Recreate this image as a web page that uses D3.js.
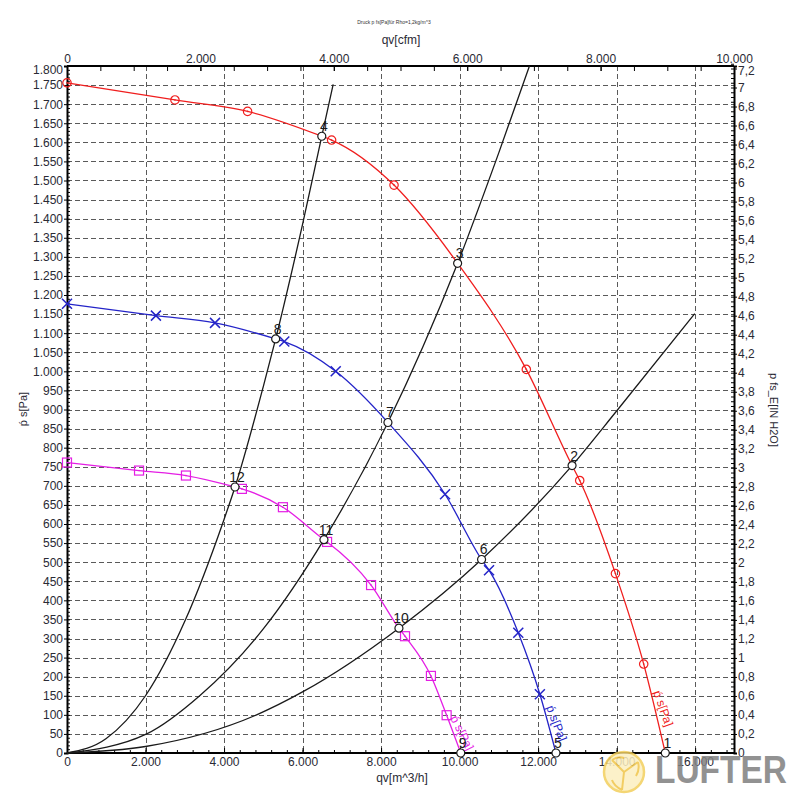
<!DOCTYPE html>
<html>
<head>
<meta charset="utf-8">
<script src="https://cdn.jsdelivr.net/npm/d3@7"></script>
<style>
  body { margin: 0; background: #fff; }
  text { font-family: "Liberation Sans", Arial, sans-serif; }
</style>
</head>
<body>
<svg id="chart"></svg>
<script>
// ---- data ----
// axis ticks
const bottomTicks = d3.range(0, 16001, 2000);      // qv [m^3/h]
const topTicks = d3.range(0, 10001, 2000);         // qv [cfm]
const leftTicks = d3.range(0, 1801, 50);           // psf [Pa]
const rightTicks = d3.range(0, 37).map(i => i / 5); // [in H2O]

// fan curves: [qv m^3/h, psf Pa]
const redMarkers = [[0, 1756], [2750, 1711], [4600, 1681], [6740, 1606], [8330, 1488],
  [11700, 1005], [13060, 714], [13970, 470], [14690, 233]];
const blueMarkers = [[0, 1177], [2265, 1146], [3770, 1127], [5535, 1078], [6845, 1000],
  [9630, 678], [10750, 479], [11495, 315], [12045, 154]];
const magentaMarkers = [[0, 761], [1835, 740], [3030, 727], [4455, 692], [5500, 644],
  [6625, 553], [7745, 440], [8610, 306], [9270, 202], [9670, 99]];

// operating points
const redPoints = [{ id: '4', q: 6490, p: 1616 }, { id: '3', q: 9950, p: 1283 },
  { id: '2', q: 12865, p: 753 }, { id: '1', q: 15240, p: 0 }];
const bluePoints = [{ id: '8', q: 5315, p: 1085 }, { id: '7', q: 8175, p: 866 },
  { id: '6', q: 10560, p: 507 }, { id: '5', q: 12455, p: 0 }];
const magentaPoints = [{ id: '12', q: 4280, p: 697 }, { id: '11', q: 6545, p: 559 },
  { id: '10', q: 8455, p: 327 }, { id: '9', q: 10030, p: 0 }];

// system curves (black)
const sysA = [[0, 0], [1000, 38], [2000, 150], [3000, 345], [4000, 612], [4280, 697],
  [5000, 960], [5315, 1085], [6000, 1385], [6490, 1616], [6780, 1752]];
const sysB = [[0, 0], [2030, 50], [3380, 150], [5000, 325], [6545, 559], [8175, 866],
  [9950, 1283], [11000, 1573], [11780, 1800]];
const sysC = [[0, 0], [2000, 17], [4830, 100], [6000, 160], [8455, 327], [10560, 507],
  [12865, 753], [14000, 896], [15990, 1151]];

const curveLabel = 'ṕ s[Pa]';

// ---- layout ----
const width = 800, height = 800;
const plot = { left: 67, right: 734, top: 66, bottom: 753 };

const svg = d3.select('#chart').attr('width', width).attr('height', height);

const de = d3.formatLocale({ decimal: ',', thousands: '.', grouping: [3], currency: ['', ''] });
const fmtInt = de.format(',');
const fmtDec = de.format('.1~f');

const x = d3.scaleLinear().domain([0, 16990]).range([plot.left, plot.right]);
const xCfm = d3.scaleLinear().domain([0, 10000]).range([plot.left, plot.right]);
const y = d3.scaleLinear().domain([0, 1800]).range([plot.bottom, plot.top]);
const yIn = d3.scaleLinear().domain([0, 1800 / 249.09]).range([plot.bottom, plot.top]);

// grid
const grid = svg.append('g').attr('stroke', '#5a5a5a').attr('stroke-width', 1)
  .attr('stroke-dasharray', '5,3');
grid.selectAll('.h').data(leftTicks.filter(d => d > 0 && d < 1800)).join('line')
  .attr('x1', plot.left).attr('x2', plot.right)
  .attr('y1', d => Math.round(y(d)) + 0.5).attr('y2', d => Math.round(y(d)) + 0.5);
grid.selectAll('.v').data(bottomTicks.filter(d => d > 0)).join('line')
  .attr('y1', plot.top).attr('y2', plot.bottom)
  .attr('x1', d => Math.round(x(d)) + 0.5).attr('x2', d => Math.round(x(d)) + 0.5);

// axes
function styleAxis(g) {
  g.select('.domain').attr('stroke', '#000').attr('stroke-width', 2);
  g.selectAll('.tick line').attr('stroke', '#000');
  g.selectAll('.tick text').attr('fill', '#2a2a35').style('font-size', '12px');
}

const leftAxis = svg.append('g').attr('transform', `translate(${plot.left},0)`)
  .call(d3.axisLeft(y).tickValues(leftTicks).tickSize(3).tickPadding(1).tickFormat(fmtInt))
  .call(styleAxis);
leftAxis.selectAll('.tick text').filter(d => d === 1800).attr('dy', '0.62em');
svg.append('g').attr('transform', `translate(${plot.left},0)`)
  .call(d3.axisLeft(y).tickValues(d3.range(0, 1801, 10)).tickSize(-3).tickFormat(''))
  .call(g => g.select('.domain').remove())
  .selectAll('line').attr('stroke', '#000');

const rightAxis = svg.append('g').attr('transform', `translate(${plot.right},0)`)
  .call(d3.axisRight(yIn).tickValues(rightTicks).tickSize(3).tickPadding(1).tickFormat(fmtDec))
  .call(styleAxis);
rightAxis.selectAll('.tick text').filter(d => d === 7.2).attr('dy', '0.5em');
svg.append('g').attr('transform', `translate(${plot.right},0)`)
  .call(d3.axisRight(yIn).tickValues(d3.range(0, 146).map(i => i / 20)).tickSize(-3).tickFormat(''))
  .call(g => g.select('.domain').remove())
  .selectAll('line').attr('stroke', '#000');

svg.append('g').attr('transform', `translate(0,${plot.bottom})`)
  .call(d3.axisBottom(x).tickValues(bottomTicks).tickSize(-5).tickPadding(4).tickFormat(fmtInt))
  .call(styleAxis)
  .call(g => g.select('.domain').attr('d', `M${plot.left},0H${plot.right}`));
svg.append('g').attr('transform', `translate(0,${plot.bottom})`)
  .call(d3.axisBottom(x).tickValues(d3.range(0, 16990, 400)).tickSize(-3).tickFormat(''))
  .call(g => g.select('.domain').remove())
  .selectAll('line').attr('stroke', '#000');

svg.append('g').attr('transform', `translate(0,${plot.top})`)
  .call(d3.axisTop(xCfm).tickValues(topTicks).tickSize(-5).tickPadding(3).tickFormat(fmtInt))
  .call(styleAxis)
  .call(g => g.select('.domain').attr('d', `M${plot.left},0H${plot.right}`));
svg.append('g').attr('transform', `translate(0,${plot.top})`)
  .call(d3.axisTop(xCfm).tickValues(d3.range(0, 10001, 500)).tickSize(-5).tickFormat(''))
  .call(g => g.select('.domain').remove())
  .selectAll('line').attr('stroke', '#000');

// axis titles
svg.append('text').attr('x', 394).attr('y', 24).attr('text-anchor', 'middle')
  .style('font-size', '5px').attr('fill', '#333').text('Druck p fs[Pa]für Rho=1,2kg/m^3');
svg.append('text').attr('x', 401).attr('y', 44).attr('text-anchor', 'middle')
  .style('font-size', '12px').attr('fill', '#2a2a35').text('qv[cfm]');
svg.append('text').attr('x', 402).attr('y', 782).attr('text-anchor', 'middle')
  .style('font-size', '12px').attr('fill', '#2a2a35').text('qv[m^3/h]');
svg.append('text').attr('transform', 'translate(27,409) rotate(-90)').attr('text-anchor', 'middle')
  .style('font-size', '11px').attr('fill', '#2a2a35').text('ṕ s[Pa]');
svg.append('text').attr('transform', 'translate(770,410) rotate(90)').attr('text-anchor', 'middle')
  .style('font-size', '11px').attr('fill', '#2a2a35').text('p fs_E[IN H2O]');

// ---- curves ----
const line = d3.line().x(d => x(d[0])).y(d => y(d[1])).curve(d3.curveMonotoneX);
const chart = svg.append('g');

[sysA, sysB, sysC].forEach(s => {
  chart.append('path').datum(s).attr('d', line)
    .attr('fill', 'none').attr('stroke', '#1a1a1a').attr('stroke-width', 1.3);
});

const series = [
  { markers: redMarkers, points: redPoints, color: '#f01e1e', shape: 'circle' },
  { markers: blueMarkers, points: bluePoints, color: '#2424c8', shape: 'cross' },
  { markers: magentaMarkers, points: magentaPoints, color: '#e41ee4', shape: 'square' }
];

series.forEach(s => {
  const pts = s.markers.concat(s.points.map(o => [o.q, o.p])).sort((a, b) => a[0] - b[0]);
  chart.append('path').datum(pts).attr('d', line)
    .attr('fill', 'none').attr('stroke', s.color).attr('stroke-width', 1.3);

  const m = chart.append('g').selectAll('g').data(s.markers).join('g')
    .attr('transform', d => `translate(${x(d[0])},${y(d[1])})`);
  if (s.shape === 'circle') {
    m.append('circle').attr('r', 4.2).attr('fill', 'none').attr('stroke', s.color).attr('stroke-width', 1.2);
    m.append('circle').attr('r', 0.8).attr('fill', s.color);
  } else if (s.shape === 'cross') {
    m.append('path').attr('d', 'M-5,-5L5,5M-5,5L5,-5').attr('stroke', s.color).attr('stroke-width', 1.5);
  } else {
    m.append('rect').attr('x', -4.5).attr('y', -4.5).attr('width', 9).attr('height', 9)
      .attr('fill', 'none').attr('stroke', s.color).attr('stroke-width', 1.2);
    m.append('circle').attr('r', 0.8).attr('fill', s.color);
  }

  // curve label beside the last segment
  const last = s.markers[s.markers.length - 1];
  const end = s.points[s.points.length - 1];
  const x1 = x(last[0]), y1 = y(last[1]), x2 = x(end.q), y2 = y(end.p);
  const ang = Math.atan2(y2 - y1, x2 - x1);
  const cx = (x1 + x2) / 2 + 9 * Math.sin(ang), cy = (y1 + y2) / 2 - 9 * Math.cos(ang) + 2;
  chart.append('text')
    .attr('transform', `translate(${cx},${cy}) rotate(${ang * 180 / Math.PI - 6})`)
    .attr('text-anchor', 'middle').attr('dy', '0.35em')
    .style('font-size', '12px').attr('fill', s.color).text(curveLabel);

  const op = chart.append('g').selectAll('g').data(s.points).join('g')
    .attr('transform', d => `translate(${x(d.q)},${y(d.p)})`);
  op.append('circle').attr('r', 4).attr('fill', '#fff').attr('stroke', '#1a1a1a').attr('stroke-width', 1.2);
  op.append('text').attr('x', 2).attr('y', -5).attr('text-anchor', 'middle')
    .style('font-size', '14px').attr('fill', '#1a1a1a').text(d => d.id);
});

// ---- logo watermark ----
const logo = svg.append('g').attr('opacity', 0.85);
logo.append('circle').attr('cx', 624).attr('cy', 772).attr('r', 20)
  .attr('fill', '#fcefc0').attr('stroke', '#f3cf5c').attr('stroke-width', 2.5);
logo.append('path')
  .attr('d', 'M624,772 L612,760 M624,772 L638,762 M624,772 L622,790 M612,760 Q618,756 624,758 M638,762 Q640,770 636,776 M622,790 Q614,786 612,780')
  .attr('fill', 'none').attr('stroke', '#f0c548').attr('stroke-width', 2);
logo.append('text').attr('x', 655).attr('y', 783).attr('textLength', 132)
  .attr('lengthAdjust', 'spacingAndGlyphs')
  .style('font-size', '38px').style('font-weight', 'bold').attr('fill', '#808080').text('LUFTER');
</script>
</body>
</html>
